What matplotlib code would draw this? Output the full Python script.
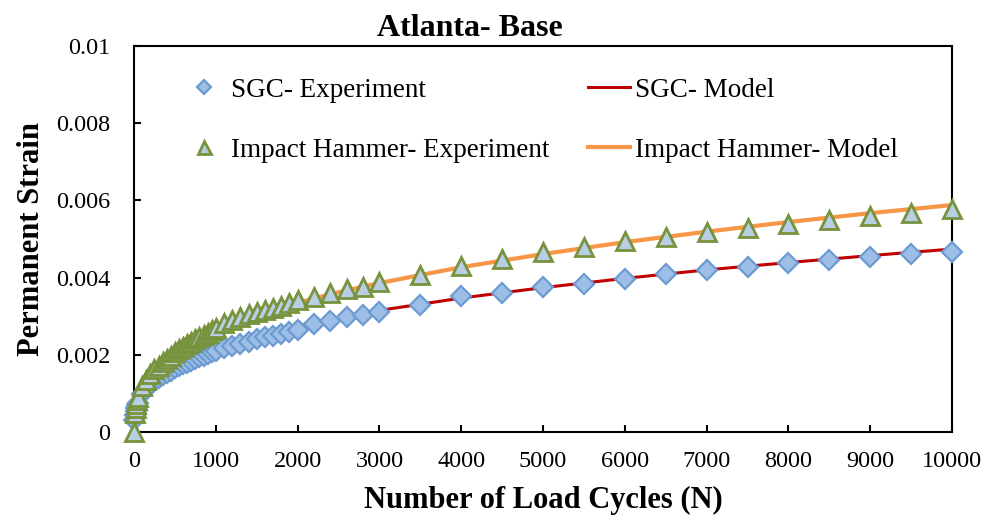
import matplotlib
matplotlib.use('Agg')
import matplotlib.pyplot as plt

# Datos
n_exp = [0, 10, 20, 30, 40, 50, 100, 150, 200, 250, 300, 350, 400, 450, 500,
         550, 600, 650, 700, 750, 800, 850, 900, 950, 1000, 1100, 1200, 1300,
         1400, 1500, 1600, 1700, 1800, 1900, 2000, 2200, 2400, 2600, 2800, 3000,
         3500, 4000, 4500, 5000, 5500, 6000, 6500, 7000, 7500, 8000, 8500, 9000,
         9500, 10000]

sgc_exp = [0.0003, 0.00044, 0.00055, 0.00063, 0.0007, 0.00076, 0.00098, 0.00112,
           0.00123, 0.00132, 0.0014, 0.00147, 0.00153, 0.00159, 0.00165, 0.0017,
           0.00175, 0.0018, 0.00185, 0.00189, 0.00194, 0.00198, 0.00202, 0.00206,
           0.0021, 0.00217, 0.00223, 0.00229, 0.00234, 0.0024, 0.00245, 0.0025,
           0.00254, 0.00259, 0.00265, 0.0028, 0.00288, 0.00297, 0.00302, 0.00312,
           0.0033, 0.00352, 0.00361, 0.00375, 0.00383, 0.00397, 0.00409, 0.0042,
           0.00428, 0.00438, 0.00446, 0.00453, 0.0046, 0.00466]

ih_exp = [0.0, 0.00048, 0.00062, 0.00073, 0.00082, 0.0009, 0.00118, 0.00136,
          0.0015, 0.00162, 0.00172, 0.00181, 0.00189, 0.00197, 0.00207, 0.00214,
          0.00221, 0.00228, 0.00234, 0.0024, 0.00246, 0.00252, 0.00257, 0.00263,
          0.0027, 0.00282, 0.00291, 0.00297, 0.00305, 0.0031, 0.00315, 0.00322,
          0.00327, 0.00335, 0.00341, 0.0035, 0.00359, 0.0037, 0.00376, 0.00388,
          0.00407, 0.00431, 0.00449, 0.00467, 0.0048, 0.00494, 0.00505, 0.00518,
          0.00528, 0.0054, 0.00549, 0.0056, 0.00567, 0.00577]

n_model = [1, 10, 20, 50, 100, 200, 300, 500, 700, 1000, 1500, 2000, 2500, 3000,
           4000, 5000, 6000, 7000, 8000, 9000, 10000]
sgc_model = [0.00021, 0.00045, 0.00057, 0.00078, 0.00099, 0.00125, 0.00144, 0.00171,
             0.00192, 0.00217, 0.00249, 0.00274, 0.00296, 0.00315, 0.00347, 0.00374,
             0.00398, 0.0042, 0.00439, 0.00457, 0.00474]
ih_model = [0.00023, 0.00052, 0.00067, 0.00092, 0.00117, 0.0015, 0.00172, 0.00206,
            0.00232, 0.00263, 0.00303, 0.00335, 0.00362, 0.00386, 0.00427, 0.00461,
            0.00492, 0.00519, 0.00544, 0.00567, 0.00588]

x_ticks = [0, 1000, 2000, 3000, 4000, 5000, 6000, 7000, 8000, 9000, 10000]
y_ticks = [0, 0.002, 0.004, 0.006, 0.008, 0.01]

plt.rcParams['font.family'] = ['Liberation Serif', 'DejaVu Serif']

fig = plt.figure(figsize=(9.88, 5.23), dpi=100)
ax = fig.add_axes([0.1356, 0.174, 0.828, 0.738])

# Curvas del modelo (debajo de los marcadores)
l_sgc, = ax.plot(n_model, sgc_model, color='#C00000', lw=2.2, zorder=2)
l_ih, = ax.plot(n_model, ih_model, color='#F79646', lw=3.0, zorder=2)

# Datos experimentales
m_sgc, = ax.plot(n_exp, sgc_exp, 'D', ms=10.5, mfc='#9DBEE6', mec='#6C9BD2',
                 mew=1.6, zorder=3, clip_on=False)
m_ih, = ax.plot(n_exp, ih_exp, '^', ms=13, mfc='#B9CDE5', mec='#77933C',
                mew=2.0, zorder=4, clip_on=False)

ax.set_xlim(0, 10000)
ax.set_ylim(0, 0.01)
ax.set_xticks(x_ticks)
ax.set_yticks(y_ticks)
ax.set_yticklabels(['%g' % v for v in y_ticks])
ax.tick_params(axis='both', direction='in', length=5, width=1.5, labelsize=17.5)
ax.tick_params(axis='x', pad=14)
ax.tick_params(axis='y', pad=17)
for s in ax.spines.values():
    s.set_linewidth(1.5)

# El título no está centrado sobre el área del gráfico
ax.set_title('Atlanta- Base', fontsize=23, fontweight='bold', pad=7, x=0.411)
ax.set_xlabel('Number of Load Cycles (N)', fontsize=22, fontweight='bold', labelpad=10)
ax.set_ylabel('Permanent Strain', fontsize=22, fontweight='bold', labelpad=7)

ax.legend([m_sgc, m_ih, l_sgc, l_ih],
          ['SGC- Experiment', 'Impact Hammer- Experiment', 'SGC- Model',
           'Impact Hammer- Model'],
          ncol=2, frameon=False, fontsize=19.5, loc='upper left',
          bbox_to_anchor=(0.061, 0.918), borderaxespad=0, borderpad=0,
          labelspacing=1.3, columnspacing=1.45, handlelength=1.52,
          handletextpad=0.21, markerscale=0.72)

fig.savefig('out.png', dpi=100)
